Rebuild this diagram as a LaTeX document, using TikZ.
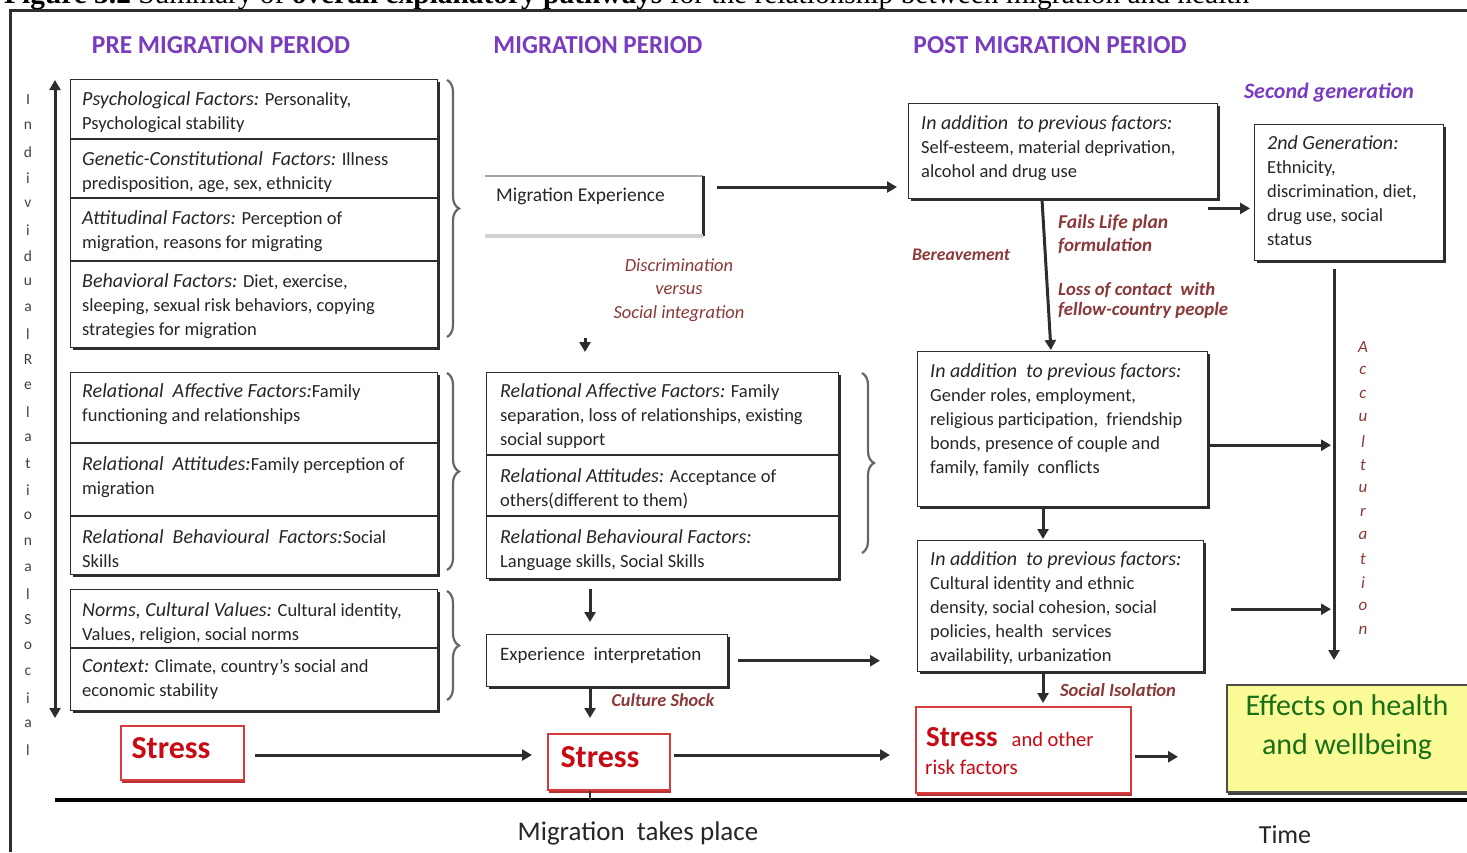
\documentclass[tikz,border=0pt]{standalone}
\usepackage{fontspec}
\setmainfont{Carlito}
\newfontfamily\capfont{Liberation Serif}
\usetikzlibrary{arrows.meta,decorations.pathreplacing,shadows}

\definecolor{ink}{RGB}{45,45,45}
\definecolor{hdpurple}{RGB}{122,60,190}
\definecolor{lblred}{RGB}{138,56,56}
\definecolor{strred}{RGB}{200,10,20}
\definecolor{boxred}{RGB}{215,60,60}
\definecolor{effgreen}{RGB}{25,112,25}
\definecolor{effyellow}{RGB}{250,250,150}

\newcommand\bodyfont{\fontsize{18.5}{24}\selectfont}
\newcommand\fhd[1]{{\fontsize{20}{24}\selectfont\itshape #1}}
\newcommand\lblfont{\bfseries\itshape}

\begin{document}
\begin{tikzpicture}[x=1pt,y=-1pt]
\tikzset{
  grp/.style={draw=ink, line width=1.4pt, fill=white, inner sep=0pt, anchor=north west,
    drop shadow={shadow xshift=2pt, shadow yshift=-2.5pt, fill=ink, opacity=1}},
  body/.style={anchor=north west, inner sep=0pt, align=left, font=\bodyfont, text=black!85},
  divline/.style={draw=ink, line width=1.4pt},
  arr/.style={draw=ink, line width=3pt, -{Triangle[length=10pt,width=11pt]}},
  brc/.style={draw=black!60, line width=2.2pt, decorate, decoration={brace, amplitude=12pt}},
  lbl/.style={text=lblred, inner sep=0pt, align=left, font=\lblfont},
  hdr/.style={text=hdpurple, inner sep=0pt},
  redbox/.style={draw=boxred, line width=1.5pt, fill=white, inner sep=0pt, anchor=north west,
    drop shadow={shadow xshift=1.5pt, shadow yshift=-3pt, fill=boxred!85!black, opacity=1}},
  ltr/.style={inner sep=0pt, font=\fontsize{15.5}{18}\selectfont, text=black!75},
}
\useasboundingbox (0,0) rectangle (1467,852);

% caption line, partly above the page
\node[anchor=base west, inner sep=0pt] (caption) at (4,3)
  {\resizebox{1245pt}{!}{\capfont\fontsize{20}{24}\selectfont\textbf{Figure 3.2} Summary of \textbf{overall explanatory pathways} for the relationship between migration and health}};

% outer frame
\draw[ink, line width=3pt] (10,852) -- (10,10) -- (1467,10);

% period headings
\node[hdr] (hpre)  at (221,45)  {\resizebox{258pt}{17pt}{\bfseries PRE MIGRATION PERIOD}};
\node[hdr] (hmig)  at (598,45)  {\resizebox{209pt}{17pt}{\bfseries MIGRATION PERIOD}};
\node[hdr] (hpost) at (1050,45) {\resizebox{273pt}{17pt}{\bfseries POST MIGRATION PERIOD}};

% vertical level scale on the left
\foreach \ch [count=\i from 0] in {I,n,d,i,v,i,d,u,a,l,R,e,l,a,t,i,o,n,a,l,S,o,c,i,a,l}
  \node[ltr] (lvl\i) at (28,{100+26*\i}) {\ch};
\coordinate (axTop) at (55,80);
\coordinate (axBot) at (55,718);
\draw[ink, line width=3pt, {Triangle[length=10pt,width=11pt]}-{Triangle[length=10pt,width=11pt]}] (axTop) -- (axBot);

% ---------------- pre-migration ----------------
\node[grp, minimum width=367pt, minimum height=268pt] (pre1) at (70,79) {};
\draw[divline] (70,139) -- (437,139);
\draw[divline] (70,198) -- (437,198);
\draw[divline] (70,261) -- (437,261);
\node[body] (p11) at (82,91)  {\fhd{Psychological Factors:} Personality,\\Psychological stability};
\node[body] (p12) at (82,151) {\fhd{Genetic-Constitutional\ \ Factors:} Illness\\predisposition, age, sex, ethnicity};
\node[body] (p13) at (82,210) {\fhd{Attitudinal Factors:} Perception of\\migration, reasons for migrating};
\node[body] (p14) at (82,273) {\fhd{Behavioral Factors:} Diet, exercise,\\sleeping, sexual risk behaviors, copying\\strategies for migration};
\draw[brc] (447,80) -- (447,337);

\node[grp, minimum width=367pt, minimum height=202pt] (pre2) at (70,372) {};
\draw[divline] (70,443) -- (437,443);
\draw[divline] (70,516) -- (437,516);
\node[body] (p21) at (82,383) {\fhd{Relational\ \ Affective Factors:}Family\\functioning and relationships};
\node[body] (p22) at (82,456) {\fhd{Relational\ \ Attitudes:}Family perception of\\migration};
\node[body] (p23) at (82,529) {\fhd{Relational\ \ Behavioural\ \ Factors:}Social\\Skills};
\draw[brc] (447,373) -- (447,570);

\node[grp, minimum width=367pt, minimum height=121pt] (pre3) at (70,589) {};
\draw[divline] (70,648) -- (437,648);
\node[body] (p31) at (82,602) {\fhd{Norms, Cultural Values:} Cultural identity,\\Values,\ religion, social norms};
\node[body] (p32) at (82,659) {\fhd{Context:} Climate, country's social and\\economic stability};
\draw[brc] (447,591) -- (447,700);

\node[redbox, minimum width=123pt, minimum height=54pt] (stressA) at (120,725) {};
\node[inner sep=0pt, text=strred, font=\fontsize{32}{34}\selectfont\bfseries] (stressAt) at (171,748) {Stress};

% ---------------- migration ----------------
\node[anchor=north west, minimum width=218pt, minimum height=60pt, inner sep=0pt] (mexp) at (485,176) {};
\draw[black!35, line width=1.5pt] (mexp.north west) -- (mexp.north east);
\draw[ink, line width=2.5pt] (mexp.north east) -- (mexp.south east);
\draw[black!18, line width=4pt] (mexp.south west) -- (mexp.south east);
\node[body, font=\fontsize{19.5}{24}\selectfont] (mexpt) at (496,188) {Migration Experience};

\node[lbl, align=center, font=\fontsize{18.5}{23.5}\selectfont\itshape] (discr) at (679,290)
  {Discrimination\\versus\\Social integration};
\coordinate (dstub) at (585,338);

\node[grp, minimum width=352pt, minimum height=206pt] (mid) at (486,372) {};
\draw[divline] (486,455) -- (838,455);
\draw[divline] (486,516) -- (838,516);
\node[body] (m1) at (500,383) {\fhd{Relational Affective Factors:} Family\\separation, loss of relationships, existing\\social support};
\node[body] (m2) at (500,468) {\fhd{Relational Attitudes:} Acceptance of\\others(different to them)};
\node[body] (m3) at (500,529) {\fhd{Relational Behavioural Factors:}\\Language skills, Social Skills};
\draw[brc] (862,373) -- (862,553);

\node[grp, minimum width=241pt, minimum height=52pt] (expi) at (486,634) {};
\node[body] (expit) at (500,647) {\resizebox{201pt}{!}{Experience\ \ interpretation}};

\node[lbl] (cshock) at (663,700) {\resizebox{103pt}{!}{Culture Shock}};

\node[redbox, minimum width=122pt, minimum height=56pt] (stressB) at (547,733) {};
\node[inner sep=0pt, text=strred, font=\fontsize{32}{34}\selectfont\bfseries] (stressBt) at (600,757) {Stress};

\coordinate (colx) at (590,0);
\coordinate (srow) at (0,755);

% ---------------- post-migration ----------------
\node[grp, minimum width=309pt, minimum height=95pt] (boxA) at (908,103) {};
\node[body] (boxAt) at (921,115) {\fhd{In addition\ \ to previous factors:}\\Self-esteem, material deprivation,\\alcohol and\ drug use};

\node[hdr] (secgen) at (1329,93) {\resizebox{170pt}{!}{\bfseries\itshape Second generation}};
\node[grp, minimum width=189pt, minimum height=136pt] (gen2) at (1254,124) {};
\node[body] (gen2t) at (1267,135) {\fhd{2nd Generation:}\\Ethnicity,\\discrimination,\ diet,\\drug use, social\\status};

\node[lbl] (bereav) at (961,255) {\resizebox{98pt}{!}{Bereavement}};
\node[lbl, anchor=north west] (lifeplan) at (1058,215) {\resizebox{110pt}{!}{Fails Life plan}\\[5pt]\resizebox{94pt}{!}{formulation}};
\node[lbl, anchor=north west] (contact) at (1058,282) {\resizebox{157pt}{!}{Loss of contact\ \ with}\\[4pt]\resizebox{170pt}{!}{fellow-country people}};

\node[grp, minimum width=290pt, minimum height=155pt] (boxB) at (917,351) {};
\node[body] (boxBt) at (930,363) {\fhd{In addition\ \ to previous factors:}\\Gender roles, employment,\\religious participation,\ \ friendship\\bonds, presence of couple and\\family,\ family\ \ conflicts};

\node[grp, minimum width=286pt, minimum height=131pt] (boxC) at (917,540) {};
\node[body] (boxCt) at (930,551) {\fhd{In addition\ \ to previous factors:}\\Cultural identity and ethnic\\density, social cohesion, social\\policies, health\ \ services\\availability,\ urbanization};

\node[lbl] (isol) at (1118,690) {\resizebox{116pt}{!}{Social Isolation}};

\node[redbox, minimum width=215pt, minimum height=86pt] (stressC) at (915,706) {};
\node[anchor=base west, inner sep=0pt, text=strred] (stressCt) at (926,746)
  {{\fontsize{29}{34}\selectfont\bfseries Stress}\hspace{14pt}{\fontsize{20.5}{24}\selectfont and other}};
\node[anchor=base west, inner sep=0pt, text=strred, font=\fontsize{21}{24}\selectfont] (stressCr) at (925,774) {risk factors};

\node[draw=black!70, line width=1.5pt, fill=effyellow, inner sep=0pt, anchor=north west,
  minimum width=241pt, minimum height=107pt,
  drop shadow={shadow xshift=1.5pt, shadow yshift=-3pt, fill=black!75, opacity=1}] (eff) at (1226,684) {};
\node[align=center, inner sep=0pt, text=effgreen, font=\fontsize{30}{39}\selectfont] (efft) at (1347,727) {Effects on health\\and wellbeing};

% acculturation axis
\coordinate (accx) at (1334,0);
\coordinate (accEnd) at (1334,660);
\foreach \ch [count=\i from 0] in {A,c,c,u,l,t,u,r,a,t,i,o,n}
  \node[inner sep=0pt, text=lblred, font=\fontsize{17}{18}\selectfont\itshape] (acc\i) at (1363,{347+23.6*\i}) {\ch};

% time line
\coordinate (tlL) at (55,800);
\coordinate (tlR) at (1467,800);
\draw[black, line width=4.5pt] (tlL) -- (tlR);
\node[inner sep=0pt, font=\fontsize{27}{30}\selectfont, text=black!85] (mtp) at (638,833) {Migration\ \ takes place};
\node[inner sep=0pt, font=\fontsize{26}{30}\selectfont, text=black!85] (time) at (1285,835) {Time};

% ---------------- connectors ----------------
\draw[arr, shorten <=14pt, shorten >=11pt] ([yshift=-11pt]mexp.north east) -- ([yshift=-11pt]mexp.north east -| boxA.west);
\draw[arr, shorten >=20pt] (dstub) -- (dstub |- mid.north);
\draw[arr, shorten <=10pt, shorten >=12pt] (colx |- mid.south) -- (colx |- expi.north);
\draw[arr, shorten <=10pt, shorten >=37pt] (expi.east) -- (expi.east -| boxC.west);
\draw[arr, shorten >=15pt] (colx |- expi.south) -- (colx |- stressB.north);
\draw[arr, shorten <=10pt, shorten >=15pt] (stressA.east |- srow) -- (stressB.west |- srow);
\draw[arr, shorten <=3pt, shorten >=25pt] (stressB.east |- srow) -- (stressC.west |- srow);
\draw[ink, line width=2pt] (colx |- stressB.south) -- (colx |- tlL);

\draw[arr, shorten >=1pt] ([xshift=134pt]boxA.south west) -- ([xshift=134pt]boxB.north west);
\draw[arr, shorten >=4pt] ([xshift=-10pt,yshift=-9pt]boxA.south east) -- ([yshift=-9pt]boxA.south east -| gen2.west);
\draw[arr, shorten <=8pt] (accx |- gen2.south) -- (accEnd);
\draw[arr, shorten >=3pt] ([yshift=-16pt]boxB.east) -- ([yshift=-16pt]boxB.east -| accx);
\draw[arr, shorten <=27pt, shorten >=3pt] ([yshift=-3pt]boxC.east) -- ([yshift=-3pt]boxC.east -| accx);
\draw[arr, shorten >=1pt] ([xshift=126pt]boxB.south west) -- ([xshift=126pt]boxC.north west);
\draw[arr, shorten >=3pt] ([xshift=126pt]boxC.south west) -- ([xshift=128pt]stressC.north west);
\draw[arr, shorten <=3pt, shorten >=48pt] ([yshift=-7pt]stressC.east) -- ([yshift=-7pt]stressC.east -| eff.west);
\end{tikzpicture}
\end{document}
